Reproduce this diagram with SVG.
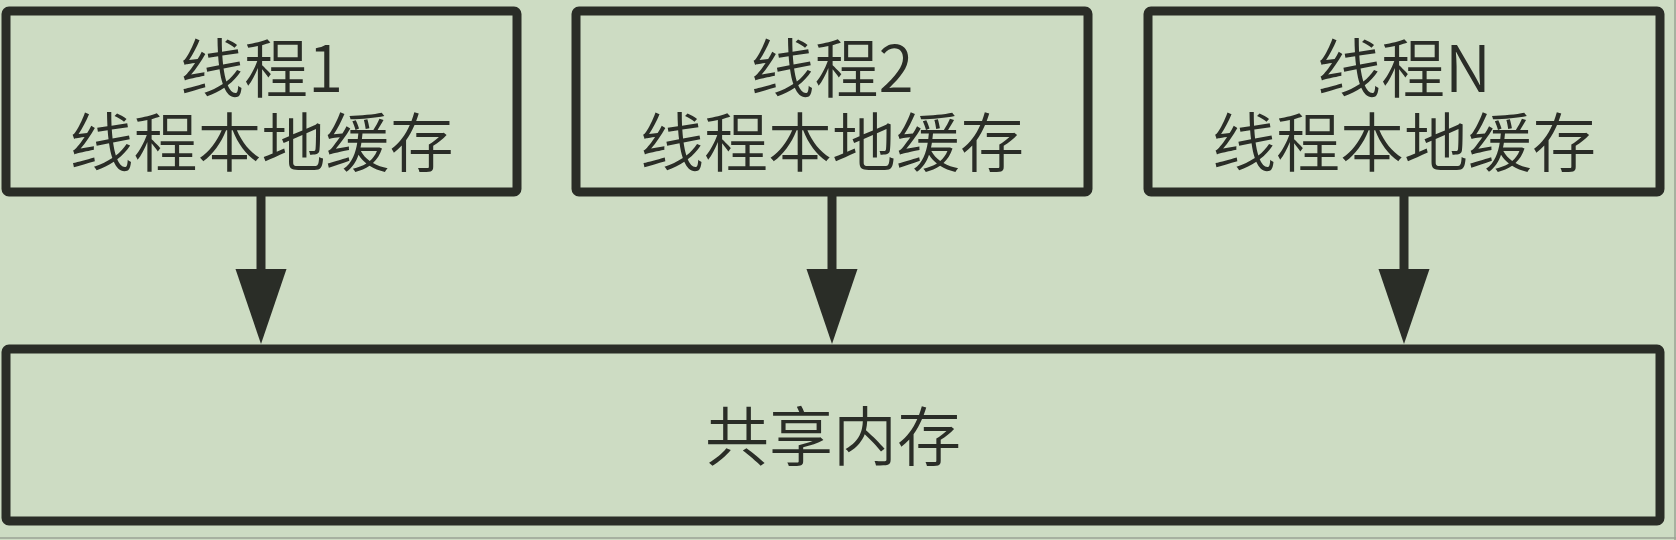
<svg xmlns="http://www.w3.org/2000/svg" width="1676" height="540" viewBox="0 0 1676 540">
<style>
.box{fill:#cddcc3;stroke:#2a2d27;stroke-width:9;stroke-linejoin:round}
.t{font-family:"Noto Sans CJK SC","Microsoft YaHei",sans-serif;font-size:64px;font-weight:350;fill:#2a2d27;text-anchor:middle}
.ln{stroke:#2a2d27;stroke-width:9;fill:none}
.hd{fill:#2a2d27}
</style>
<rect x="0" y="0" width="1676" height="540" fill="#cddcc3"/>
<line x1="1675" y1="0" x2="1675" y2="540" stroke="#9aa394" stroke-width="1.5"/>
<line x1="0" y1="538" x2="1676" y2="538" stroke="#9aa394" stroke-width="1.5"/>
<g id="thread1">
<rect class="box" x="6" y="11" width="511" height="181" rx="3"/>
<text class="t" x="261.5" y="92">线程1<tspan x="261.5" dy="74">线程本地缓存</tspan></text>
</g>
<g id="thread2">
<rect class="box" x="576" y="11" width="512" height="181" rx="3"/>
<text class="t" x="832" y="92">线程2<tspan x="832" dy="74">线程本地缓存</tspan></text>
</g>
<g id="threadN">
<rect class="box" x="1148" y="11" width="512" height="181" rx="3"/>
<text class="t" x="1404" y="92">线程N<tspan x="1404" dy="74">线程本地缓存</tspan></text>
</g>
<g id="shared">
<rect class="box" x="6" y="349" width="1654" height="172" rx="3"/>
<text class="t" x="833" y="460">共享内存</text>
</g>
<g id="connectors">
<line class="ln" x1="261" y1="196" x2="261" y2="272"/>
<polygon class="hd" points="235.5,269 286.5,269 261,344"/>
<line class="ln" x1="832" y1="196" x2="832" y2="272"/>
<polygon class="hd" points="806.5,269 857.5,269 832,344"/>
<line class="ln" x1="1404" y1="196" x2="1404" y2="272"/>
<polygon class="hd" points="1378.5,269 1429.5,269 1404,344"/>
</g>
</svg>
